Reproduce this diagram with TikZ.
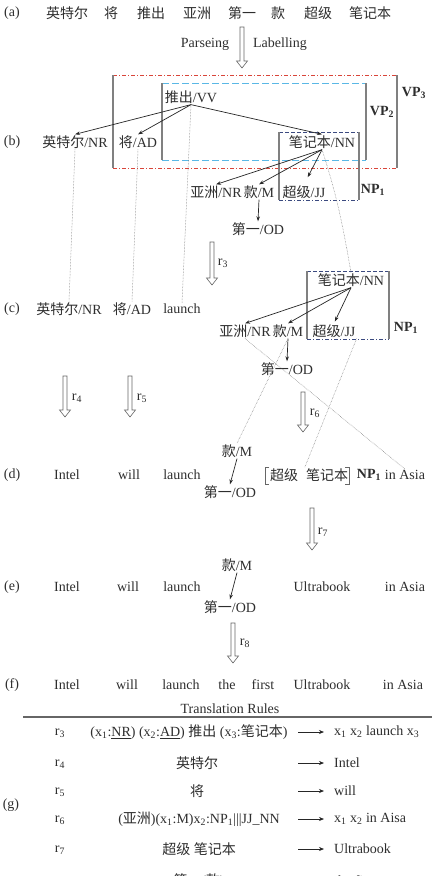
\documentclass[tikz,border=0pt]{standalone}
\usepackage{fontspec}
\setmainfont{Liberation Serif}
\newfontfamily\cjk{Noto Sans CJK SC}
\usetikzlibrary{arrows.meta,calc}
\newcommand\zh[1]{{\cjk #1}}
\newcommand\sbs[1]{\textsubscript{#1}}
\definecolor{vpred}{HTML}{D9453A}
\definecolor{vpblue}{HTML}{5BB8E6}
\definecolor{npnavy}{HTML}{3B4A80}
\definecolor{boxgray}{HTML}{808080}
\newcommand\hollowarrow[3]{%
  \draw[hollow] (#1-2,#2) -- (#1-2,#3-7) -- (#1-5.5,#3-7) -- (#1,#3) -- (#1+5.5,#3-7) -- (#1+2,#3-7) -- (#1+2,#2) -- cycle;}
\begin{document}
\begin{tikzpicture}[x=1pt,y=-1pt,
  txt/.style={font=\fontsize{14}{16}\selectfont, text=black!82, inner sep=1pt},
  tarrow/.style={draw=black!85, line width=0.7pt, -{Stealth[length=5pt,width=3.5pt]}},
  rarrow/.style={draw=black!85, line width=0.7pt, -{Stealth[length=5pt,width=4pt]}},
  dots/.style={draw=black!55, line width=0.5pt, densely dotted},
  hollow/.style={draw=black!60, line width=0.6pt, fill=white},
  side/.style={draw=boxgray, line width=1.1pt},
  redline/.style={draw=vpred, line width=0.9pt, dash pattern=on 4pt off 2pt on 1pt off 2pt},
  blueline/.style={draw=vpblue, line width=1pt, dash pattern=on 7pt off 3pt},
  navydash/.style={draw=npnavy, line width=0.8pt, dash pattern=on 4pt off 2pt},
  navydot/.style={draw=npnavy, line width=0.8pt, dash pattern=on 4pt off 2pt on 1pt off 2pt},
  brk/.style={draw=black!60, line width=0.7pt},
  rule/.style={draw=black!60, line width=1.3pt}]
\useasboundingbox[fill=white] (0,0) rectangle (432,876);

% ---------- row (a)
\node[txt] (la) at (12,13) {(a)};
\node[txt] (a1) at (67,13) {\zh{英特尔}};
\node[txt] (a2) at (111,13) {\zh{将}};
\node[txt] (a3) at (151,13) {\zh{推出}};
\node[txt] (a4) at (197,13) {\zh{亚洲}};
\node[txt] (a5) at (242,13) {\zh{第一}};
\node[txt] (a6) at (278,13) {\zh{款}};
\node[txt] (a7) at (318,13) {\zh{超级}};
\node[txt] (a8) at (370,13) {\zh{笔记本}};
\node[txt] (parse) at (205,44) {Parseing};
\node[txt] (label) at (280,44) {Labelling};
\hollowarrow{242}{27}{68}

% ---------- boxes of (b)
\draw[redline] (113,75) -- (397,75);
\draw[redline] (113,168) -- (397,168);
\draw[side] (113,75) -- (113,168);
\draw[side] (397,75) -- (397,168);
\draw[blueline] (162,83) -- (366,83);
\draw[blueline] (162,160) -- (366,160);
\draw[side] (162,83) -- (162,160);
\draw[side] (366,83) -- (366,160);
\draw[navydash] (279,132) -- (359,132);
\draw[navydot] (279,200) -- (359,200);
\draw[side] (279,132) -- (279,200);
\draw[side] (359,132) -- (359,200);
\node[txt, font=\fontsize{14}{16}\selectfont\bfseries] (vp2) at (382,112) {VP\sbs{2}};
\node[txt, font=\fontsize{14}{16}\selectfont\bfseries] (vp3) at (414,93) {VP\sbs{3}};
\node[txt, font=\fontsize{14}{16}\selectfont\bfseries] (np1b) at (373,190) {NP\sbs{1}};

% ---------- row (b)
\node[txt] (lb) at (12,142) {(b)};
\node[txt] (bvv) at (191,97) {\zh{推出}/VV};
\node[txt] (bnr) at (75,142) {\zh{英特尔}/NR};
\node[txt] (bad) at (138,142) {\zh{将}/AD};
\node[txt] (bnn) at (322,142) {\zh{笔记本}/NN};
\node[txt] (bnr2) at (216,192) {\zh{亚洲}/NR};
\node[txt] (bm) at (259,192) {\zh{款}/M};
\node[txt] (bjj) at (304,192) {\zh{超级}/JJ};
\node[txt] (bod) at (258,229) {\zh{第一}/OD};
\draw[tarrow] (bvv.south) -- (bnr.north);
\draw[tarrow] (bvv.south) -- (bad.north);
\draw[tarrow] (bvv.south) -- (bnn.north);
\draw[tarrow] (bnn.south) -- (bnr2.north);
\draw[tarrow] (bnn.south) -- (bm.north);
\draw[tarrow, shorten >=8pt] (bnn.south) -- (bjj.north);
\draw[tarrow] (bm.south) -- (bod.north);

% ---------- r3
\hollowarrow{212}{242}{285}
\node[txt] (r3) at (223,263) {r\sbs{3}};

% ---------- row (c)
\node[txt] (lc) at (12,309) {(c)};
\node[txt] (cnr) at (69,309) {\zh{英特尔}/NR};
\node[txt] (cad) at (132,309) {\zh{将}/AD};
\node[txt] (claunch) at (182,309) {launch};
\draw[navydash] (307,271) -- (389,271);
\draw[navydot] (307,339) -- (389,339);
\draw[side] (307,271) -- (307,339);
\draw[side] (389,271) -- (389,339);
\node[txt, font=\fontsize{14}{16}\selectfont\bfseries] (np1c) at (406,328) {NP\sbs{1}};
\node[txt] (cnn) at (351,280) {\zh{笔记本}/NN};
\node[txt] (cnr2) at (245,331) {\zh{亚洲}/NR};
\node[txt] (cm) at (288,331) {\zh{款}/M};
\node[txt] (cjj) at (334,331) {\zh{超级}/JJ};
\node[txt] (cod) at (287,369) {\zh{第一}/OD};
\draw[tarrow] (cnn.south) -- (cnr2.north);
\draw[tarrow] (cnn.south) -- (cm.north);
\draw[tarrow, shorten >=2pt] (cnn.south) -- (cjj.north);
\draw[tarrow] (cm.south) -- (cod.north);

% dotted (b) -> (c)
\draw[dots] (bnr.south) -- (cnr.north);
\draw[dots] (bad.south) -- (cad.north);
\draw[dots] (bvv.south) -- (claunch.north);
\draw[dots] (bnn.south) to[out=-72, in=100] (cnn.north);

% ---------- r4 r5 r6
\hollowarrow{65}{376}{417}
\node[txt] (r4) at (77,398) {r\sbs{4}};
\hollowarrow{130}{376}{417}
\node[txt] (r5) at (142,398) {r\sbs{5}};
\hollowarrow{303}{392}{432}
\node[txt] (r6) at (315,413) {r\sbs{6}};

% ---------- row (d)
\node[txt] (ld) at (12,475) {(d)};
\node[txt] (dintel) at (67,475) {Intel};
\node[txt] (dwill) at (129,475) {will};
\node[txt] (dlaunch) at (182,475) {launch};
\node[txt] (dm) at (237,451) {\zh{款}/M};
\node[txt] (dod) at (230,492) {\zh{第一}/OD};
\draw[tarrow] (dm.south) -- (dod.north);
\node[txt] (dcj) at (284,475) {\zh{超级}};
\node[txt] (dnn) at (327,475) {\zh{笔记本}};
\draw[brk] (269,467) -- (265,467) -- (265,484) -- (269,484);
\draw[brk] (345,467) -- (349,467) -- (349,484) -- (345,484);
\node[txt, font=\fontsize{14}{16}\selectfont\bfseries] (dnp) at (369,475) {NP\sbs{1}};
\node[txt] (dasia) at (405,475) {in Asia};

% dotted (c) -> (d)
\draw[dots] (cnr2.south) -- (dasia.north);
\draw[dots] (cm.south) -- (dm.north);
\draw[dots] (cjj.south east) -- (dnn.north west);

% ---------- r7
\hollowarrow{312}{508}{550}
\node[txt] (r7) at (323,532) {r\sbs{7}};

% ---------- row (e)
\node[txt] (le) at (12,587) {(e)};
\node[txt] (eintel) at (67,587) {Intel};
\node[txt] (ewill) at (128,587) {will};
\node[txt] (elaunch) at (182,587) {launch};
\node[txt] (em) at (237,565) {\zh{款}/M};
\node[txt] (eod) at (230,607) {\zh{第一}/OD};
\draw[tarrow] (em.south) -- (eod.north);
\node[txt] (eultra) at (322,587) {Ultrabook};
\node[txt] (easia) at (405,587) {in Asia};

% ---------- r8
\hollowarrow{233}{623}{663}
\node[txt] (r8) at (245,643) {r\sbs{8}};

% ---------- row (f)
\node[txt] (lf) at (12,685) {(f)};
\node[txt] (fintel) at (67,685) {Intel};
\node[txt] (fwill) at (127,685) {will};
\node[txt] (flaunch) at (181,685) {launch};
\node[txt] (fthe) at (227,685) {the};
\node[txt] (ffirst) at (263,685) {first};
\node[txt] (fultra) at (322,685) {Ultrabook};
\node[txt] (fasia) at (403,685) {in Asia};

% ---------- (g) table
\node[txt] (trtitle) at (230,709) {Translation Rules};
\coordinate (rulel) at (23,717);
\coordinate (ruler) at (432,717);
\draw[rule] (rulel) -- (ruler);
\node[txt] (lg) at (11,805) {(g)};

\node[txt] (t3n) at (60,733) {r\sbs{3}};
\node[txt] (t3l) at (189,732) {(x\sbs{1}:\underline{NR}) (x\sbs{2}:\underline{AD}) \zh{推出} (x\sbs{3}:\zh{笔记本})};
\coordinate (t3a) at (298,732); \coordinate (t3b) at (324,732);
\draw[rarrow] (t3a) -- (t3b);
\node[txt, anchor=west] (t3r) at (333,732) {x\sbs{1} x\sbs{2} launch x\sbs{3}};

\node[txt] (t4n) at (60,764) {r\sbs{4}};
\node[txt] (t4l) at (197,763) {\zh{英特尔}};
\coordinate (t4a) at (298,763); \coordinate (t4b) at (324,763);
\draw[rarrow] (t4a) -- (t4b);
\node[txt, anchor=west] (t4r) at (333,763) {Intel};

\node[txt] (t5n) at (60,792) {r\sbs{5}};
\node[txt] (t5l) at (197,791) {\zh{将}};
\coordinate (t5a) at (298,791); \coordinate (t5b) at (324,791);
\draw[rarrow] (t5a) -- (t5b);
\node[txt, anchor=west] (t5r) at (333,791) {will};

\node[txt] (t6n) at (60,820) {r\sbs{6}};
\node[txt] (t6l) at (199,819) {(\zh{亚洲})(x\sbs{1}:M)x\sbs{2}:NP\sbs{1}|||JJ\_NN};
\coordinate (t6a) at (298,819); \coordinate (t6b) at (324,819);
\draw[rarrow] (t6a) -- (t6b);
\node[txt, anchor=west] (t6r) at (333,819) {x\sbs{1} x\sbs{2} in Aisa};

\node[txt] (t7n) at (60,850) {r\sbs{7}};
\node[txt] (t7l) at (199,849) {\zh{超级} \zh{笔记本}};
\coordinate (t7a) at (298,849); \coordinate (t7b) at (324,849);
\draw[rarrow] (t7a) -- (t7b);
\node[txt, anchor=west] (t7r) at (333,849) {Ultrabook};

\begin{scope}
\clip (0,0) rectangle (432,876);
\node[txt] (t8n) at (60,882) {r\sbs{8}};
\node[txt] (t8l) at (199,881) {\zh{第一}(\zh{款})};
\coordinate (t8a) at (298,881); \coordinate (t8b) at (324,881);
\draw[rarrow] (t8a) -- (t8b);
\node[txt, anchor=west] (t8r) at (333,881) {the first};
\end{scope}
\end{tikzpicture}
\end{document}
